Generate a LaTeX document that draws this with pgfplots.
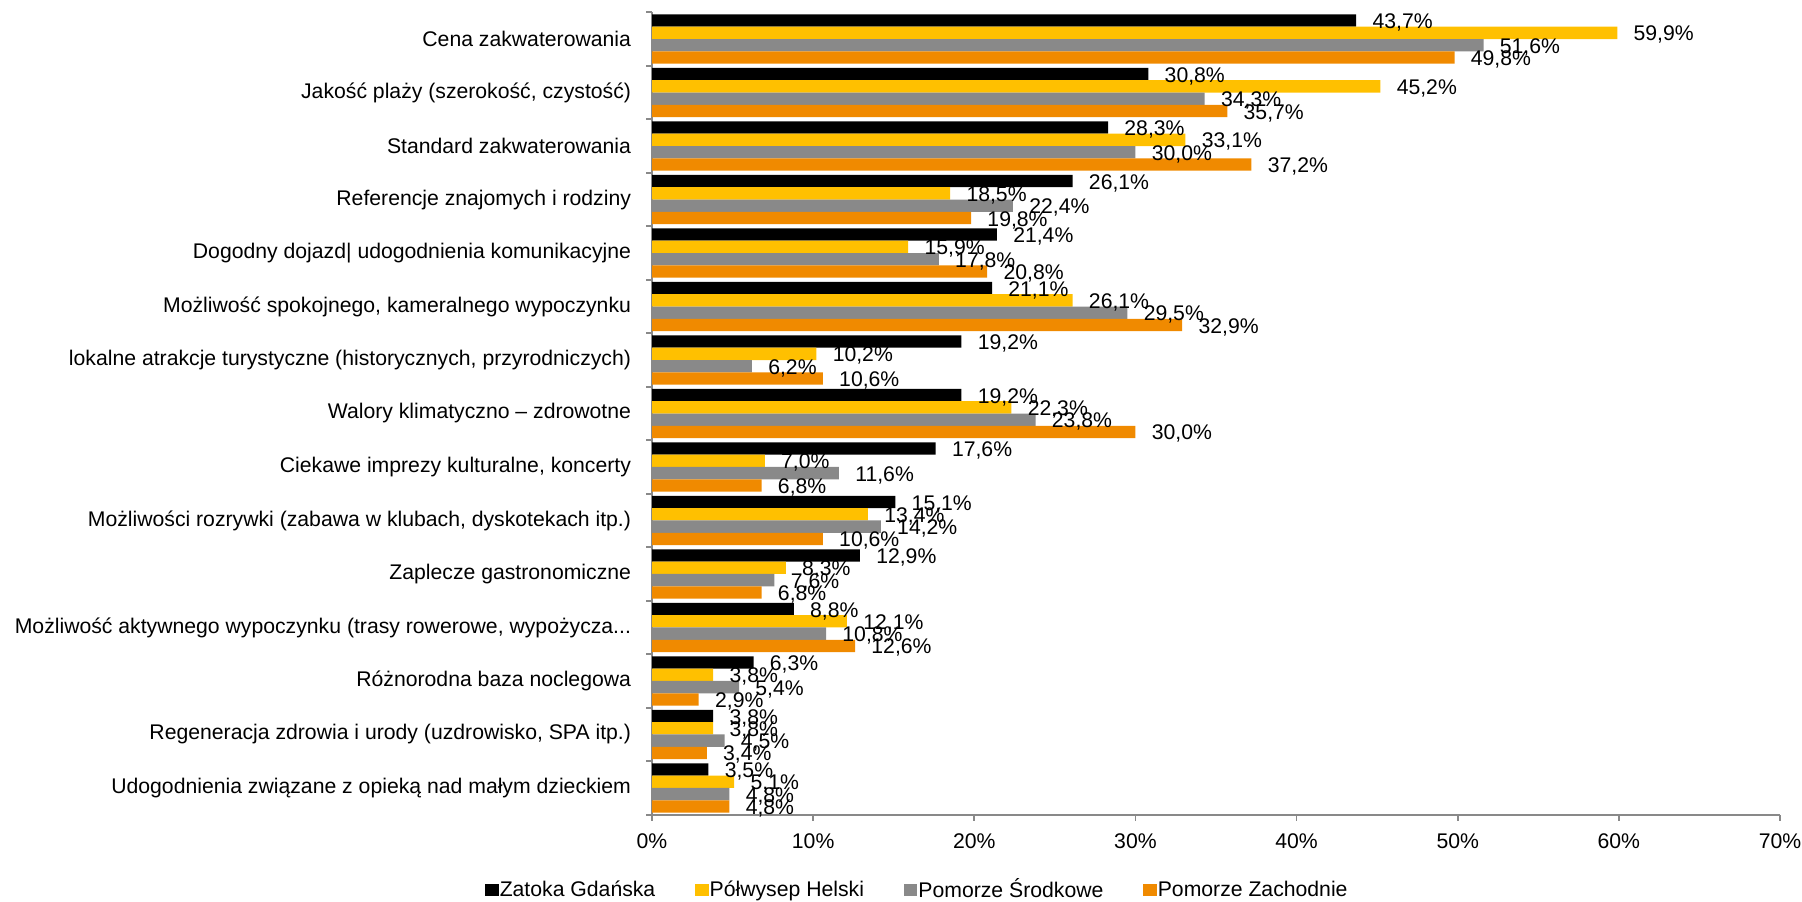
\documentclass[border=0pt]{standalone}
\usepackage{fontspec}
\setmainfont{Liberation Sans}
\usepackage{pgfplots}
\usepackage{pgfplotstable}
\pgfplotsset{compat=1.18}
\definecolor{cA}{HTML}{000000}
\definecolor{cB}{HTML}{FFC000}
\definecolor{cC}{HTML}{898989}
\definecolor{cD}{HTML}{F08A00}
\definecolor{axgray}{HTML}{898989}
\newcommand\tdots{\mbox{.}\mbox{.}\mbox{.}}

\pgfplotstableread{
y a b c d
14 43.7 59.9 51.6 49.8
13 30.8 45.2 34.3 35.7
12 28.3 33.1 30.0 37.2
11 26.1 18.5 22.4 19.8
10 21.4 15.9 17.8 20.8
9 21.1 26.1 29.5 32.9
8 19.2 10.2 6.2 10.6
7 19.2 22.3 23.8 30.0
6 17.6 7.0 11.6 6.8
5 15.1 13.4 14.2 10.6
4 12.9 8.3 7.6 6.8
3 8.8 12.1 10.8 12.6
2 6.3 3.8 5.4 2.9
1 3.8 3.8 4.5 3.4
0 3.5 5.1 4.8 4.8
}\data

\begin{document}
\begin{tikzpicture}[font=\fontsize{10.6}{12.7}\selectfont]
\useasboundingbox (0,0) rectangle (901pt,450.5pt);
\begin{axis}[
 at={(326pt,43.15pt)}, anchor=south west,
 scale only axis, width=564pt, height=401.2pt,
 xbar, bar width=6.15pt,
 xmin=0, xmax=70, ymin=-0.5, ymax=14.5,
 axis lines=left, axis line style={-, draw=axgray, line width=0.9pt},
 /pgf/number format/assume math mode=true,
 xtick={0,10,...,70},
 xticklabel={\pgfmathprintnumber{\tick}\%},
 x tick label style={yshift=-3pt},
 tick align=outside,
 major tick length=3pt,
 tick style={draw=axgray, line width=0.9pt},
 ytick={-0.5,0.5,...,14.5},
 yticklabel={\empty},
 extra y ticks={0,1,...,14},
 extra y tick labels={
  Udogodnienia związane z opieką nad małym dzieckiem,
  {Regeneracja zdrowia i urody (uzdrowisko, SPA itp.)},
  Różnorodna baza noclegowa,
  {Możliwość aktywnego wypoczynku (trasy rowerowe, wypożycza\tdots},
  Zaplecze gastronomiczne,
  {Możliwości rozrywki (zabawa w klubach, dyskotekach itp.)},
  {Ciekawe imprezy kulturalne, koncerty},
  Walory klimatyczno – zdrowotne,
  {lokalne atrakcje turystyczne (historycznych, przyrodniczych)},
  {Możliwość spokojnego, kameralnego wypoczynku},
  Dogodny dojazd| udogodnienia komunikacyjne,
  Referencje znajomych i rodziny,
  Standard zakwaterowania,
  {Jakość plaży (szerokość, czystość)},
  Cena zakwaterowania},
 extra y tick style={major tick length=0pt},
 y tick label style={anchor=east, inner sep=0pt, xshift=-10.3pt},
 point meta=x,
 nodes near coords={\pgfmathprintnumber[fixed,fixed zerofill,precision=1,use comma]{\pgfplotspointmeta}\%},
 nodes near coords style={anchor=west, inner sep=0pt, xshift=8pt, yshift=-1pt, text=black},
 legend columns=4,
 legend image code/.code={\fill[#1] (0pt,-3pt) rectangle (6.7pt,3pt);},
 legend style={at={(0.2349,-0.0938)}, anchor=center, draw=none, fill=none,
   nodes={inner sep=0.5pt},
   /tikz/every even column/.append style={column sep=19.5pt}},
]
\addplot[fill=cA, draw=none, bar shift=9.225pt] table[x=a, y=y] {\data};
\addplot[fill=cB, draw=none, bar shift=3.075pt] table[x=b, y=y] {\data};
\addplot[fill=cC, draw=none, bar shift=-3.075pt] table[x=c, y=y] {\data};
\addplot[fill=cD, draw=none, bar shift=-9.225pt] table[x=d, y=y] {\data};
\legend{Zatoka Gdańska, Półwysep Helski, Pomorze Środkowe, Pomorze Zachodnie}
\end{axis}
\end{tikzpicture}
\end{document}
